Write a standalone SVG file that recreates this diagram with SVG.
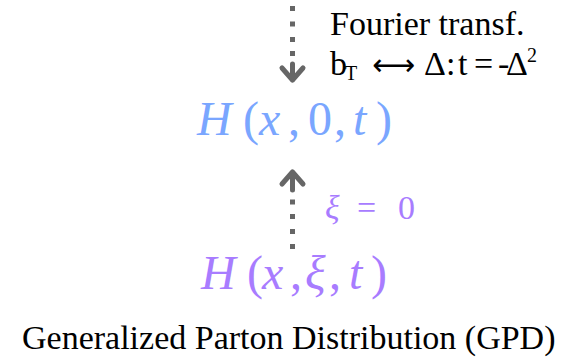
<svg xmlns="http://www.w3.org/2000/svg" width="571" height="358" viewBox="0 0 571 358">
<style>
.t{font-size:34px;fill:#000}
.m{font-size:48px}
.s{font-size:34px}
.i{font-style:italic}
.blue{fill:#7aa6ff}
.purple{fill:#a87cff}
.dot{fill:#666}
.head{fill:none;stroke:#666;stroke-width:5;stroke-linecap:round;stroke-linejoin:round}
</style>
<rect width="571" height="358" fill="#fff"/>
<g id="connectors">
  <g id="arrow-down">
    <rect class="dot" x="290" y="6" width="5" height="5"/>
    <rect class="dot" x="290" y="21.5" width="5" height="5"/>
    <rect class="dot" x="290" y="37" width="5" height="5"/>
    <rect class="dot" x="290" y="51" width="5" height="5"/>
    <path class="head" d="M292.5,64 V80 M282,68 L292.5,80 L303,68"/>
  </g>
  <g id="arrow-up">
    <rect class="dot" x="290" y="199.5" width="5" height="5"/>
    <rect class="dot" x="290" y="214" width="5" height="5"/>
    <rect class="dot" x="290" y="229" width="5" height="5"/>
    <rect class="dot" x="290" y="244" width="5" height="5"/>
    <path class="head" d="M292.5,172 V190 M282,184 L292.5,172 L303,184"/>
  </g>
</g>
<g font-family="'Liberation Serif', 'DejaVu Serif', serif">
<g id="label-fourier">
  <text class="t" x="330" y="35">Fourier transf.</text>
  <text class="t" y="75"><tspan x="330">b</tspan><tspan x="345" y="80" font-size="20">T</tspan><tspan x="372" y="75" font-family="'DejaVu Sans', sans-serif" font-size="30">⟷</tspan><tspan x="424" y="75">Δ</tspan><tspan x="446">:</tspan><tspan x="458">t</tspan><tspan x="474">=</tspan><tspan x="498">-</tspan><tspan x="506">Δ</tspan><tspan x="527" y="62" font-size="20">2</tspan></text>
</g>
<g id="node-H-x0t">
  <text class="m blue" y="135"><tspan class="i" x="197">H</tspan><tspan x="243">(</tspan><tspan class="i" x="259">x</tspan><tspan x="288">,</tspan><tspan x="308">0</tspan><tspan x="334">,</tspan><tspan class="i" x="353">t</tspan><tspan x="376">)</tspan></text>
</g>
<g id="label-xi0">
  <text class="s purple" y="219"><tspan class="i" x="325">ξ</tspan><tspan x="357">=</tspan><tspan x="398">0</tspan></text>
</g>
<g id="node-H-xxit">
  <text class="m purple" y="289"><tspan class="i" x="201">H</tspan><tspan x="247">(</tspan><tspan class="i" x="262">x</tspan><tspan x="290">,</tspan><tspan class="i" x="305">ξ</tspan><tspan x="329">,</tspan><tspan class="i" x="349">t</tspan><tspan x="371">)</tspan></text>
</g>
<g id="label-gpd">
  <text class="t" x="22" y="349">Generalized Parton Distribution (GPD)</text>
</g>
</g>
</svg>
